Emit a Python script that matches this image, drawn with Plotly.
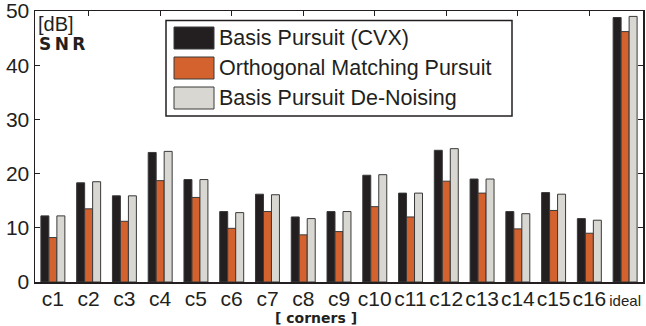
import plotly.graph_objects as go

categories = ["c1", "c2", "c3", "c4", "c5", "c6", "c7", "c8", "c9", "c10",
              "c11", "c12", "c13", "c14", "c15", "c16", "ideal"]
series_names = ["Basis Pursuit (CVX)", "Orthogonal Matching Pursuit", "Basis Pursuit De-Noising"]
bp_cvx = [12.2, 18.3, 15.9, 23.9, 18.9, 13.0, 16.2, 12.0, 13.0, 19.7, 16.4, 24.3, 19.0, 13.0, 16.5, 11.7, 48.8]
omp = [8.2, 13.5, 11.2, 18.7, 15.6, 9.9, 13.0, 8.7, 9.3, 13.9, 12.0, 18.6, 16.4, 9.8, 13.2, 9.0, 46.2]
bpdn = [12.2, 18.5, 15.9, 24.1, 18.9, 12.8, 16.1, 11.7, 13.0, 19.8, 16.4, 24.6, 19.0, 12.6, 16.2, 11.4, 49.0]
y_ticks = [0, 10, 20, 30, 40, 50]
top_ticks = [2, 4, 6, 8, 10, 12, 14, 16]

colors = ["#231f20", "#d4622f", "#d9d7d1"]
FONT = "Liberation Sans, Arial, sans-serif"
BOLDFONT = "DejaVu Sans, sans-serif"

xpos = list(range(1, len(categories) + 1))
ticktext = [c if c != "ideal" else '<span style="font-size:15px">ideal</span>' for c in categories]

fig = go.Figure()
for name, vals, col in zip(series_names, [bp_cvx, omp, bpdn], colors):
    fig.add_trace(go.Bar(x=xpos, y=vals, name=name, marker=dict(color=col, line=dict(color="#3a3a3a", width=1)),
                         showlegend=False, hoverinfo="skip"))

# invisible trace to anchor the top axis
fig.add_trace(go.Scatter(x=top_ticks, y=[None] * len(top_ticks), xaxis="x2", yaxis="y",
                         mode="lines", showlegend=False, hoverinfo="skip"))

fig.update_layout(
    width=646, height=326,
    margin=dict(l=35, r=3, t=11, b=44),
    paper_bgcolor="white", plot_bgcolor="white",
    barmode="group", bargap=0.33, bargroupgap=0,
    font=dict(family=FONT, color="#231f20"),
    xaxis=dict(range=[0.5, 17.5], tickvals=xpos, ticktext=ticktext, ticks="", tickangle=0,
               automargin=False, ticklabelstandoff=-3,
               showline=True, linecolor="#231f20", linewidth=1.5, mirror=True,
               showgrid=False, zeroline=False, tickfont=dict(size=21, family=FONT)),
    xaxis2=dict(range=[0.5, 17.5], overlaying="x", side="top", tickvals=top_ticks, automargin=False,
                ticks="inside", ticklen=5, tickcolor="#231f20", showticklabels=False,
                showgrid=False, zeroline=False, showline=False),
    yaxis=dict(range=[0, 50], tickvals=y_ticks, ticks="inside", ticklen=5, tickcolor="#231f20",
               automargin=False, ticklabeloverflow="allow",
               showline=True, linecolor="#231f20", linewidth=1.5, mirror="ticks",
               showgrid=False, zeroline=False, tickfont=dict(size=21, family=FONT)),
)

# custom legend (box, swatches, labels)
lx0, lx1, ly0, ly1 = 166, 512, 20.5, 116
pw, ph = 646 - 35 - 3, 326 - 11 - 44
def px(x):
    return (x - 35) / pw
def py(y):
    return (326 - 44 - y) / ph

fig.add_shape(type="rect", xref="paper", yref="paper", x0=px(lx0), x1=px(lx1), y0=py(ly1), y1=py(ly0),
              line=dict(color="#231f20", width=1.5), fillcolor="white")
for i, (name, col) in enumerate(zip(series_names, colors)):
    cy = 38 + i * 30
    fig.add_shape(type="rect", xref="paper", yref="paper", x0=px(174), x1=px(214),
                  y0=py(cy + 11), y1=py(cy - 11), line=dict(color="#3a3a3a", width=1), fillcolor=col)
    fig.add_annotation(xref="paper", yref="paper", x=px(217), y=py(cy), text=name, showarrow=False,
                       xanchor="left", yanchor="middle", font=dict(size=21.5, family=FONT, color="#231f20"))

fig.add_annotation(xref="paper", yref="paper", x=px(36), y=py(24), text="[dB]", showarrow=False,
                   xanchor="left", yanchor="middle", font=dict(size=20, family=FONT, color="#231f20"))
fig.add_annotation(xref="paper", yref="paper", x=px(37), y=py(44), text="<b>S\u2009N\u2009R</b>", showarrow=False,
                   xanchor="left", yanchor="middle", font=dict(size=17, family=BOLDFONT, color="#231f20"))
fig.add_annotation(xref="paper", yref="paper", x=px(316), y=py(317.5),
                   text="<b>[ corners ]</b>",
                   showarrow=False, xanchor="center", yanchor="middle",
                   font=dict(size=14, family=BOLDFONT, color="#231f20"))

fig.write_html("out.html", config={"displayModeBar": False, "staticPlot": True},
               post_script="document.body.style.margin='0';document.body.style.overflow='hidden';")
